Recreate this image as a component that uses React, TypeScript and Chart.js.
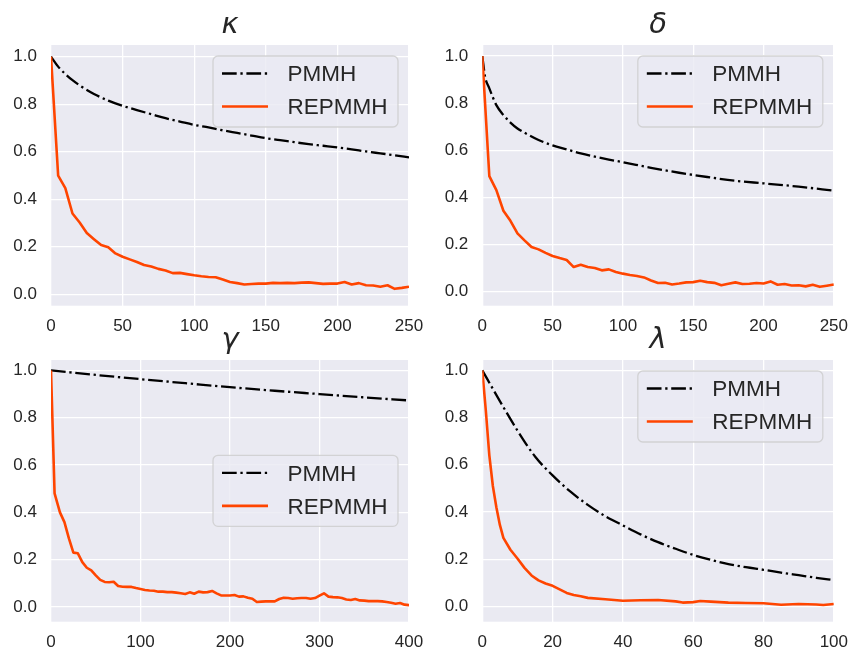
import React, { useEffect, useRef } from "react";
import { Chart, registerables } from "chart.js";

Chart.register(...registerables);

// ---------- data ----------
const seriesNames = ["PMMH", "REPMMH"];
const yTickValues = [0, 0.2, 0.4, 0.6, 0.8, 1.0];

// kappa
const kappaXTicks = [0, 50, 100, 150, 200, 250];
const kappaPmmhLags = [0, 5, 10, 15, 20, 30, 40, 50, 60, 70, 80, 90, 100, 110, 120, 130, 140, 150, 160, 170, 180, 190, 200, 210, 220, 230, 240, 250];
const kappaPmmh = [1.0, 0.958, 0.927, 0.901, 0.879, 0.843, 0.815, 0.793, 0.775, 0.758, 0.741, 0.727, 0.713, 0.702, 0.69, 0.679, 0.668, 0.657, 0.649, 0.64, 0.632, 0.625, 0.618, 0.61, 0.601, 0.593, 0.585, 0.576];
const kappaRepLags = [0, 5, 10, 15, 20, 25, 30, 35, 40, 45, 50, 55, 60, 65, 70, 75, 80, 85, 90, 95, 100, 105, 110, 115, 120, 125, 130, 135, 140, 145, 150, 155, 160, 165, 170, 175, 180, 185, 190, 195, 200, 205, 210, 215, 220, 225, 230, 235, 240, 245, 250];
const kappaRep = [1.0, 0.499, 0.447, 0.34, 0.302, 0.258, 0.232, 0.207, 0.198, 0.172, 0.158, 0.147, 0.136, 0.123, 0.117, 0.107, 0.1, 0.089, 0.09, 0.085, 0.08, 0.076, 0.073, 0.072, 0.062, 0.052, 0.047, 0.041, 0.043, 0.045, 0.045, 0.048, 0.047, 0.048, 0.047, 0.049, 0.05, 0.047, 0.044, 0.045, 0.045, 0.052, 0.041, 0.047, 0.038, 0.037, 0.032, 0.038, 0.023, 0.027, 0.032];

// delta
const deltaXTicks = [0, 50, 100, 150, 200, 250];
const deltaPmmhLags = [0, 2, 5, 10, 15, 20, 25, 30, 40, 50, 60, 70, 80, 90, 100, 120, 140, 160, 180, 200, 225, 250];
const deltaPmmh = [1.0, 0.912, 0.863, 0.792, 0.75, 0.718, 0.693, 0.675, 0.644, 0.621, 0.604, 0.587, 0.573, 0.561, 0.55, 0.526, 0.505, 0.487, 0.471, 0.46, 0.446, 0.429];
const deltaRepLags = [0, 5, 10, 15, 20, 25, 30, 35, 40, 45, 50, 55, 60, 65, 70, 75, 80, 85, 90, 95, 100, 105, 110, 115, 120, 125, 130, 135, 140, 145, 150, 155, 160, 165, 170, 175, 180, 185, 190, 195, 200, 205, 210, 215, 220, 225, 230, 235, 240, 245, 250];
const deltaRep = [1.0, 0.491, 0.431, 0.344, 0.301, 0.248, 0.218, 0.19, 0.18, 0.165, 0.152, 0.143, 0.135, 0.105, 0.115, 0.105, 0.101, 0.091, 0.095, 0.084, 0.077, 0.071, 0.067, 0.061, 0.048, 0.037, 0.038, 0.031, 0.035, 0.04, 0.041, 0.047, 0.041, 0.038, 0.028, 0.034, 0.04, 0.033, 0.034, 0.037, 0.035, 0.044, 0.03, 0.033, 0.027, 0.028, 0.023, 0.03, 0.021, 0.026, 0.031];

// gamma
const gammaXTicks = [0, 100, 200, 300, 400];
const gammaPmmhLags = [0, 50, 100, 150, 200, 250, 300, 350, 400];
const gammaPmmh = [1.0, 0.981, 0.963, 0.946, 0.929, 0.914, 0.9, 0.886, 0.873];
const gammaRepLags = [0, 4, 10, 15, 20, 25, 30, 35, 40, 45, 50, 55, 60, 65, 70, 75, 80, 85, 90, 95, 100, 105, 110, 115, 120, 125, 130, 135, 140, 145, 150, 155, 160, 165, 170, 175, 180, 185, 190, 195, 200, 205, 210, 215, 220, 225, 230, 235, 240, 245, 250, 255, 260, 265, 270, 275, 280, 285, 290, 295, 300, 305, 310, 315, 320, 325, 330, 335, 340, 345, 350, 355, 360, 365, 370, 375, 380, 385, 390, 395, 400];
const gammaRep = [1.0, 0.48, 0.4, 0.359, 0.29, 0.23, 0.227, 0.19, 0.166, 0.155, 0.134, 0.115, 0.106, 0.105, 0.107, 0.089, 0.086, 0.085, 0.085, 0.08, 0.076, 0.072, 0.07, 0.069, 0.065, 0.065, 0.063, 0.063, 0.061, 0.058, 0.055, 0.062, 0.056, 0.065, 0.062, 0.063, 0.068, 0.058, 0.049, 0.049, 0.049, 0.051, 0.044, 0.045, 0.039, 0.035, 0.021, 0.023, 0.024, 0.024, 0.024, 0.034, 0.039, 0.038, 0.035, 0.037, 0.038, 0.038, 0.035, 0.038, 0.048, 0.058, 0.044, 0.042, 0.041, 0.038, 0.032, 0.03, 0.034, 0.028, 0.027, 0.025, 0.025, 0.025, 0.024, 0.021, 0.018, 0.014, 0.017, 0.01, 0.008];

// lambda
const lambdaXTicks = [0, 20, 40, 60, 80, 100];
const lambdaPmmhLags = [0, 5, 10, 15, 20, 25, 30, 35, 40, 45, 50, 55, 60, 65, 70, 75, 80, 85, 90, 95, 100];
const lambdaPmmh = [1.0, 0.87, 0.745, 0.635, 0.555, 0.487, 0.43, 0.382, 0.343, 0.305, 0.272, 0.244, 0.218, 0.197, 0.179, 0.166, 0.155, 0.143, 0.132, 0.121, 0.111];
const lambdaRepLags = [0, 1, 2, 3, 4, 5, 6, 8, 10, 12, 14, 16, 18, 20, 22, 24, 26, 28, 30, 35, 40, 45, 50, 55, 57, 60, 62, 65, 70, 75, 80, 85, 90, 95, 97, 100];
const lambdaRep = [1.0, 0.83, 0.64, 0.51, 0.42, 0.345, 0.29, 0.24, 0.203, 0.163, 0.131, 0.11, 0.097, 0.087, 0.072, 0.057, 0.048, 0.043, 0.036, 0.03, 0.024, 0.026, 0.027, 0.021, 0.016, 0.018, 0.023, 0.02, 0.016, 0.014, 0.013, 0.007, 0.01, 0.008, 0.006, 0.01];

// ---------- styling / layout ----------
const W = 858;
const H = 654;
const Y_AXIS_W = 51;
const X_AXIS_H = 40;
const TICK_FONT = { family: "'Liberation Sans', Arial, sans-serif", size: 17 };
const TEXT_COLOR = "#262626";
const FACE = "#EAEAF2";
const ORANGE = "#FF4500";

type PanelCfg = {
  title: string;
  area: { l: number; r: number; t: number; b: number };
  xMax: number;
  yMin: number;
  yMax: number;
  xTicks: number[];
  pmmhLags: number[];
  pmmh: number[];
  repLags: number[];
  rep: number[];
  legendLoc: "upper right" | "center right";
};

const panels: PanelCfg[] = [
  { title: "κ", area: { l: 51, r: 409, t: 45, b: 305.7 }, xMax: 250, yMin: -0.048, yMax: 1.049, xTicks: kappaXTicks, pmmhLags: kappaPmmhLags, pmmh: kappaPmmh, repLags: kappaRepLags, rep: kappaRep, legendLoc: "upper right" },
  { title: "δ", area: { l: 482.3, r: 840.3, t: 45, b: 305.7 }, xMax: 250, yMin: -0.059, yMax: 1.047, xTicks: deltaXTicks, pmmhLags: deltaPmmhLags, pmmh: deltaPmmh, repLags: deltaRepLags, rep: deltaRep, legendLoc: "upper right" },
  { title: "γ", area: { l: 51, r: 409, t: 360, b: 621.7 }, xMax: 400, yMin: -0.062, yMax: 1.044, xTicks: gammaXTicks, pmmhLags: gammaPmmhLags, pmmh: gammaPmmh, repLags: gammaRepLags, rep: gammaRep, legendLoc: "center right" },
  { title: "λ", area: { l: 482.3, r: 840.3, t: 360, b: 621.7 }, xMax: 100, yMin: -0.065, yMax: 1.044, xTicks: lambdaXTicks, pmmhLags: lambdaPmmhLags, pmmh: lambdaPmmh, repLags: lambdaRepLags, rep: lambdaRep, legendLoc: "upper right" },
];

const bgPlugin = {
  id: "axesFace",
  beforeDraw(chart: any) {
    const { ctx, chartArea: a } = chart;
    ctx.save();
    ctx.fillStyle = FACE;
    ctx.fillRect(a.left, a.top, a.right - a.left, a.bottom - a.top);
    ctx.restore();
  },
};

const titlePlugin = {
  id: "mplTitle",
  afterDraw(chart: any, _args: any, opts: any) {
    const { ctx, chartArea: a } = chart;
    ctx.save();
    ctx.font = "italic 29px 'DejaVu Sans', sans-serif";
    ctx.fillStyle = TEXT_COLOR;
    ctx.textAlign = "center";
    ctx.textBaseline = "alphabetic";
    ctx.fillText(opts.text, (a.left + a.right) / 2, a.top - 12);
    ctx.restore();
  },
};

const legendPlugin = {
  id: "mplLegend",
  afterDraw(chart: any, _args: any, opts: any) {
    const { ctx, chartArea: a } = chart;
    const w = 185;
    const h = 71;
    const inset = 11;
    const x = a.right - inset - w;
    const y = opts.loc === "center right" ? (a.top + a.bottom) / 2 - h / 2 : a.top + inset;
    ctx.save();
    ctx.beginPath();
    (ctx as any).roundRect(x, y, w, h, 5);
    ctx.fillStyle = "rgba(234,234,242,0.8)";
    ctx.fill();
    ctx.lineWidth = 1.3;
    ctx.strokeStyle = "rgba(204,204,204,0.8)";
    ctx.stroke();
    chart.data.datasets.forEach((ds: any, i: number) => {
      const rowY = y + 17.5 + i * 33;
      ctx.beginPath();
      ctx.setLineDash(ds.borderDash || []);
      ctx.lineCap = "butt";
      ctx.strokeStyle = ds.borderColor;
      ctx.lineWidth = ds.borderWidth;
      ctx.moveTo(x + 9, rowY);
      ctx.lineTo(x + 55, rowY);
      ctx.stroke();
      ctx.setLineDash([]);
      ctx.font = "22.5px 'Liberation Sans', Arial, sans-serif";
      ctx.fillStyle = TEXT_COLOR;
      ctx.textAlign = "left";
      ctx.textBaseline = "alphabetic";
      ctx.fillText(ds.label, x + 74.5, rowY + 7.8);
    });
    ctx.restore();
  },
};

function Panel({ cfg }: { cfg: PanelCfg }) {
  const ref = useRef<HTMLCanvasElement>(null);
  useEffect(() => {
    if (!ref.current) return;
    const { area } = cfg;
    const chart = new Chart(ref.current, {
      type: "line",
      data: {
        datasets: [
          {
            label: seriesNames[0],
            data: cfg.pmmhLags.map((x, i) => ({ x, y: cfg.pmmh[i] })),
            borderColor: "#000000",
            borderWidth: 2.3,
            borderDash: [14.7, 3.7, 2.3, 3.7],
            borderCapStyle: "butt",
            pointRadius: 0,
            fill: false,
            cubicInterpolationMode: "monotone",
            order: 1,
          },
          {
            label: seriesNames[1],
            data: cfg.repLags.map((x, i) => ({ x, y: cfg.rep[i] })),
            borderColor: ORANGE,
            borderWidth: 2.6,
            borderJoinStyle: "round",
            pointRadius: 0,
            fill: false,
            tension: 0,
            order: 0,
          },
        ],
      } as any,
      options: {
        responsive: false,
        maintainAspectRatio: false,
        animation: false,
        events: [],
        layout: {
          padding: {
            left: area.l - Y_AXIS_W,
            right: W - area.r,
            top: area.t,
            bottom: H - area.b - X_AXIS_H,
          },
        },
        scales: {
          x: {
            type: "linear",
            min: 0,
            max: cfg.xMax,
            bounds: "data",
            afterBuildTicks: (s: any) => {
              s.ticks = cfg.xTicks.map((v) => ({ value: v }));
            },
            afterFit: (s: any) => {
              s.height = X_AXIS_H;
            },
            grid: { color: "#ffffff", lineWidth: 1.3, drawTicks: false },
            border: { display: false },
            ticks: {
              color: TEXT_COLOR,
              font: TICK_FONT,
              padding: 10,
              maxRotation: 0,
              autoSkip: false,
              callback: (v: any) => String(v),
            },
          },
          y: {
            type: "linear",
            min: cfg.yMin,
            max: cfg.yMax,
            bounds: "data",
            afterBuildTicks: (s: any) => {
              s.ticks = yTickValues.map((v) => ({ value: v }));
            },
            afterFit: (s: any) => {
              s.width = Y_AXIS_W;
            },
            grid: { color: "#ffffff", lineWidth: 1.3, drawTicks: false },
            border: { display: false },
            ticks: {
              color: TEXT_COLOR,
              font: TICK_FONT,
              padding: 14,
              autoSkip: false,
              callback: (v: any) => Number(v).toFixed(1),
            },
          },
        },
        plugins: {
          legend: { display: false },
          tooltip: { enabled: false },
          mplTitle: { text: cfg.title },
          mplLegend: { loc: cfg.legendLoc },
        } as any,
      } as any,
      plugins: [bgPlugin, titlePlugin, legendPlugin],
    });
    return () => chart.destroy();
  }, [cfg]);
  return (
    <canvas
      ref={ref}
      width={W}
      height={H}
      style={{ position: "absolute", left: 0, top: 0, width: W, height: H }}
    />
  );
}

export default function App() {
  return (
    <div
      style={{
        position: "fixed",
        left: 0,
        top: 0,
        width: W,
        height: H,
        background: "#ffffff",
        overflow: "hidden",
      }}
    >
      {panels.map((p) => (
        <Panel key={p.title} cfg={p} />
      ))}
    </div>
  );
}
